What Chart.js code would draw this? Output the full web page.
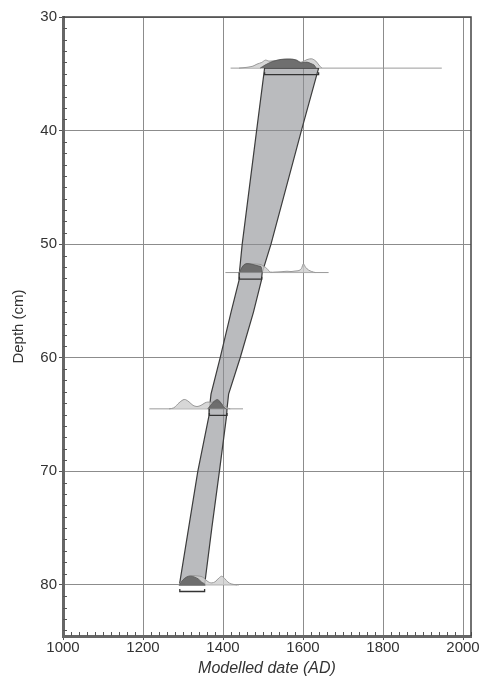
<!DOCTYPE html>
<html><head><meta charset="utf-8">
<script src="https://cdn.jsdelivr.net/npm/chart.js@4/dist/chart.umd.min.js"></script>
<style>html,body{margin:0;padding:0;background:#fff}#wrap{width:479px;height:678px;position:relative}</style>
</head><body><div id="wrap"><canvas id="c" width="479" height="678"></canvas></div>
<script>
// ---- data ----
const xTicks = [1000, 1200, 1400, 1600, 1800, 2000];
const yTicks = [30, 40, 50, 60, 70, 80];
const sampleDepths = [34.5, 52.5, 64.5, 80];

// age-depth model envelope (95% range) by depth
const envDepths = [34.5, 40, 45, 50, 52.5, 53.2, 56, 60, 63.2, 64.5, 65.1, 70, 75, 80];
const envLeft   = [1504, 1484, 1466, 1448, 1441, 1440, 1420, 1393, 1370, 1366, 1365, 1337, 1314, 1291];
const envRight  = [1639, 1596, 1558, 1520, 1498, 1496, 1476, 1443, 1414, 1410, 1409, 1391, 1372, 1354];

// 95% ranges (brackets) and baseline extents per sample
const rangeStart = [1504, 1441, 1366, 1292];
const rangeEnd   = [1639, 1497, 1410, 1354];
const baseStart  = [1419, 1406, 1216, 1290];
const baseEnd    = [1947, 1664, 1450, 1440];

// unmodelled (light) probability distributions, relative heights
const light1Years = [1440, 1460, 1475, 1485, 1497, 1506, 1515, 1530, 1545, 1560, 1575, 1585, 1593, 1600, 1610, 1622, 1632, 1640, 1647];
const light1Prob  = [0, 0.08, 0.2, 0.4, 0.57, 0.8, 0.7, 0.75, 0.85, 0.9, 0.88, 0.8, 0.6, 0.65, 0.85, 0.93, 0.7, 0.3, 0];
const light2Years = [1440, 1448, 1455, 1465, 1480, 1495, 1502, 1506, 1512, 1518, 1530, 1545, 1560, 1570, 1580, 1590, 1596, 1601, 1607, 1614, 1622, 1631];
const light2Prob  = [0, 0.5, 0.8, 0.87, 0.85, 0.8, 0.6, 0.53, 0.3, 0.05, 0.05, 0.08, 0.13, 0.1, 0.15, 0.2, 0.4, 0.87, 0.5, 0.25, 0.1, 0];
const light3Years = [1265, 1277, 1290, 1300, 1306, 1315, 1325, 1335, 1345, 1355, 1362, 1370, 1380, 1390, 1400, 1410, 1418];
const light3Prob  = [0, 0.1, 0.6, 0.9, 0.93, 0.7, 0.35, 0.23, 0.35, 0.6, 0.68, 0.65, 0.7, 0.65, 0.4, 0.1, 0];
const light4Years = [1288, 1295, 1305, 1315, 1325, 1335, 1345, 1352, 1360, 1366, 1372, 1380, 1390, 1397, 1405, 1412, 1420, 1435];
const light4Prob  = [0, 0.3, 0.7, 0.9, 0.93, 0.9, 0.85, 0.7, 0.4, 0.25, 0.2, 0.3, 0.7, 0.87, 0.6, 0.3, 0.1, 0];

// modelled (dark) probability distributions, relative heights
const dark1Years = [1493, 1505, 1520, 1535, 1545, 1560, 1575, 1585, 1593, 1600, 1610, 1620, 1628, 1633];
const dark1Prob  = [0, 0.3, 0.6, 0.78, 0.87, 0.9, 0.88, 0.75, 0.55, 0.55, 0.6, 0.45, 0.3, 0];
const dark2Years = [1441, 1447, 1453, 1460, 1470, 1480, 1490, 1495, 1498];
const dark2Prob  = [0, 0.5, 0.8, 0.9, 0.85, 0.75, 0.65, 0.6, 0];
const dark3Years = [1362, 1368, 1375, 1381, 1386, 1392, 1398, 1404, 1408];
const dark3Prob  = [0, 0.3, 0.65, 0.85, 0.93, 0.75, 0.4, 0.1, 0];
const dark4Years = [1291, 1300, 1310, 1318, 1328, 1338, 1346, 1352, 1356];
const dark4Prob  = [0, 0.5, 0.8, 0.87, 0.8, 0.6, 0.3, 0.15, 0];

// ---- build datasets ----
const PROB_SCALE = 0.88;     // cm of depth for relative height 1
const BRACKET_OFF = 0.58;    // bracket below baseline (cm)
const BRACKET_TICK = 0.22;

function distPoints(years, prob, depth) {
  return years.map((yr, i) => ({x: yr, y: depth - prob[i] * PROB_SCALE}));
}
const envelope = envDepths.map((d, i) => ({x: envLeft[i], y: d}))
  .concat(envDepths.map((d, i) => ({x: envRight[i], y: d})).reverse());
envelope.push({x: envLeft[0], y: envDepths[0]});

const lights = [[light1Years, light1Prob], [light2Years, light2Prob], [light3Years, light3Prob], [light4Years, light4Prob]];
const darks = [[dark1Years, dark1Prob], [dark2Years, dark2Prob], [dark3Years, dark3Prob], [dark4Years, dark4Prob]];

const datasets = [];
sampleDepths.forEach((d, i) => {
  datasets.push({data: [{x: baseStart[i], y: d}, {x: baseEnd[i], y: d}],
    borderColor: '#9a9a9a', borderWidth: 1, pointRadius: 0, fill: false, order: 20});
});
datasets.push({data: envelope, borderColor: '#3c3c3c', borderWidth: 1.2, backgroundColor: 'rgba(140,141,146,0.6)',
  fill: 'shape', pointRadius: 0, order: 15, tension: 0});
sampleDepths.forEach((d, i) => {
  datasets.push({data: distPoints(lights[i][0], lights[i][1], d), borderColor: '#999', borderWidth: 1,
    backgroundColor: 'rgba(205,205,205,0.8)', fill: 'shape', pointRadius: 0, order: 10, tension: 0.3});
});
sampleDepths.forEach((d, i) => {
  datasets.push({data: distPoints(darks[i][0], darks[i][1], d), borderColor: '#555', borderWidth: 0.8,
    backgroundColor: 'rgba(100,100,100,0.9)', fill: 'shape', pointRadius: 0, order: 8, tension: 0.3});
});
sampleDepths.forEach((d, i) => {
  const yb = d + BRACKET_OFF;
  datasets.push({data: [{x: rangeStart[i], y: yb - BRACKET_TICK}, {x: rangeStart[i], y: yb},
                        {x: rangeEnd[i], y: yb}, {x: rangeEnd[i], y: yb - BRACKET_TICK}],
    borderColor: '#333', borderWidth: 1.3, pointRadius: 0, fill: false, order: 2});
});

// ---- plugins ----
const frameAndMinor = {
  id: 'frameAndMinor',
  afterDraw(chart) {
    const {ctx, chartArea: a, scales: {x, y}} = chart;
    ctx.save();
    ctx.strokeStyle = '#555';
    ctx.lineWidth = 1;
    ctx.beginPath();
    for (let v = 1000; v <= 2020; v += 20) {
      if (v % 200 === 0) continue;
      const px = Math.round(x.getPixelForValue(v)) + 0.5;
      ctx.moveTo(px, a.bottom); ctx.lineTo(px, a.bottom - 4);
    }
    for (let v = 30; v <= 84; v += 1) {
      if (v % 10 === 0) continue;
      const py = Math.round(y.getPixelForValue(v)) + 0.5;
      ctx.moveTo(a.left, py); ctx.lineTo(a.left + 4, py);
    }
    ctx.stroke();
    ctx.strokeStyle = '#444';
    ctx.lineWidth = 1.5;
    ctx.beginPath();
    ctx.moveTo(a.left, a.top); ctx.lineTo(a.right, a.top); ctx.lineTo(a.right, a.bottom);
    ctx.stroke();
    ctx.restore();
  }
};

const FONT = '"Liberation Sans", Arial, Helvetica, sans-serif';
new Chart(document.getElementById('c'), {
  type: 'line',
  data: {datasets},
  options: {
    responsive: false, animation: false, devicePixelRatio: 1,
    layout: {padding: {top: 17, right: 8, left: 0, bottom: 0}},
    plugins: {legend: {display: false}, tooltip: {enabled: false}},
    scales: {
      x: {
        type: 'linear', min: 1000, max: 2020,
        afterBuildTicks: s => { s.ticks = xTicks.map(v => ({value: v})); },
        afterFit: s => { s.height = 42; s.paddingLeft = 0; s.paddingRight = 0; },
        grid: {color: '#8c8c8c', lineWidth: 1, tickLength: 4, tickColor: '#555'},
        border: {color: '#666', width: 3},
        ticks: {color: '#333', padding: 0, maxRotation: 0, callback: v => String(v),
          font: {family: FONT, size: 15, lineHeight: 1}},
        title: {display: true, text: 'Modelled date (AD)', color: '#333', padding: {top: 0, bottom: 1},
          font: {family: FONT, size: 16, style: 'italic', lineHeight: 1}}
      },
      y: {
        type: 'linear', reverse: true, min: 30, max: 84.5,
        afterBuildTicks: s => { s.ticks = yTicks.map(v => ({value: v})); },
        afterFit: s => { s.width = 63; s.paddingTop = 0; s.paddingBottom = 0; },
        grid: {color: '#8c8c8c', lineWidth: 1, tickLength: 4, tickColor: '#555'},
        border: {color: '#666', width: 3},
        ticks: {color: '#333', padding: 2, callback: v => String(v),
          font: {family: FONT, size: 15, lineHeight: 1}},
        title: {display: true, text: 'Depth (cm)', color: '#333', padding: {top: 10, bottom: 0},
          font: {family: FONT, size: 15, lineHeight: 1.2}}
      }
    }
  },
  plugins: [frameAndMinor]
});
</script></body></html>
